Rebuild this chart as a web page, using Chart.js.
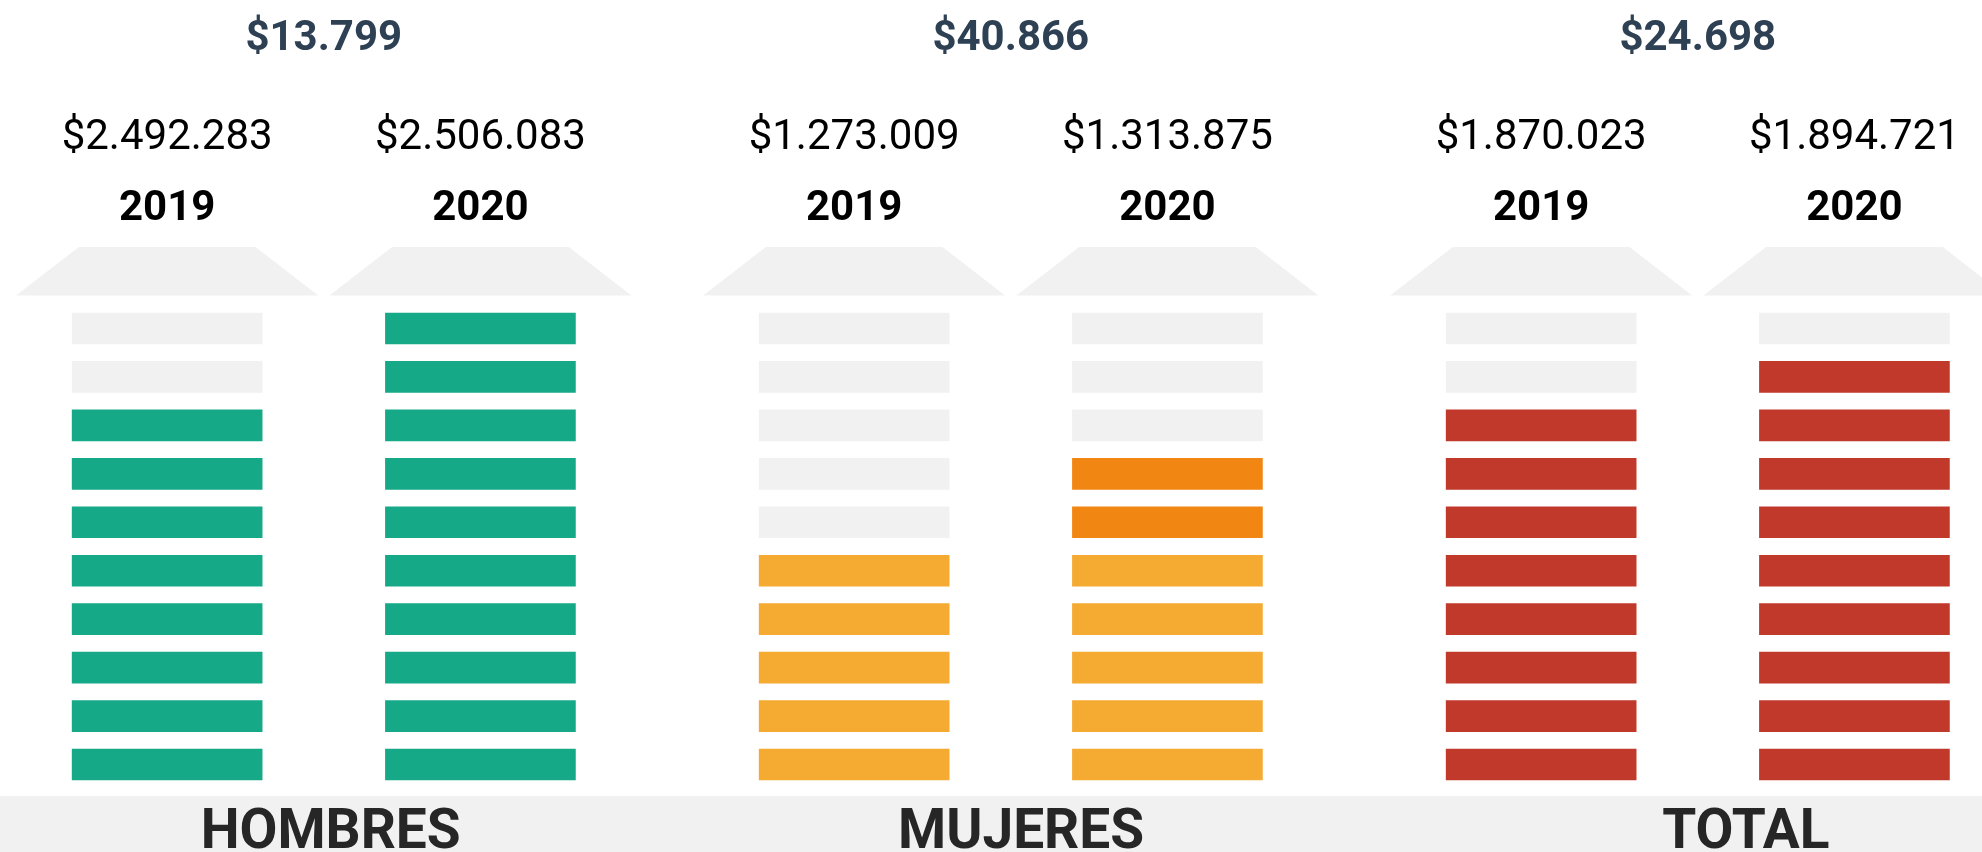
<!DOCTYPE html>
<html lang="es">
<head>
<meta charset="utf-8">
<title>Ingreso promedio 2019 - 2020</title>
<script src="https://cdn.jsdelivr.net/npm/chart.js@4.4.0/dist/chart.umd.min.js"></script>
<style>
  html, body { margin:0; padding:0; background:#fff; }
  #wrap { width:1982px; height:852px; }
</style>
</head>
<body>
<div id="wrap"><canvas id="chart" width="1982" height="852"></canvas></div>
<script>
/* ───────── datos ───────── */
const grupos         = ['HOMBRES', 'MUJERES', 'TOTAL'];
const anios          = ['2019', '2020'];
const monto2019      = [2492283, 1273009, 1870023];
const monto2020      = [2506083, 1313875, 1894721];
const diferencia     = [13799, 40866, 24698];
const bloques2019    = [8, 5, 8];     // bloques llenos (de 10)
const bloques2020    = [10, 7, 9];
const destacados2020 = [0, 2, 0];     // bloques superiores resaltados en 2020
const TOTAL_BLOQUES  = 10;

/* ───────── colores ───────── */
const colorGrupo     = ['#16a987', '#f5aa31', '#c0392b'];
const colorDestacado = ['#16a987', '#f28613', '#c0392b'];
const VACIO          = '#f1f1f1';

/* ───────── geometría (unidades de escala) ───────── */
const SEP   = 0.228;   // media distancia entre columnas de un grupo
const ALTO  = 0.64;    // alto de cada bloque
const ANCHO = 190;     // grosor de barra en px

const fmt = n => '$' + String(n).replace(/\B(?=(\d{3})+(?!\d))/g, '.');

/* ---------- una columna por grupo y año ---------- */
const columnas = [];
grupos.forEach((g, gi) => anios.forEach((a, ai) => columnas.push({
  x: gi + (ai ? SEP : -SEP),
  grupo: gi,
  anio: a,
  llenos: ai ? bloques2020[gi] : bloques2019[gi],
  destacados: ai ? destacados2020[gi] : 0,
  monto: ai ? monto2020[gi] : monto2019[gi]
})));

/* ---------- un dataset por nivel de bloque ---------- */
const datasets = [];
for (let i = 0; i < TOTAL_BLOQUES; i++) {
  datasets.push({
    data: columnas.map(c => ({ x: c.x, y: [i, i + ALTO] })),
    backgroundColor: columnas.map(c => {
      if (i >= c.llenos) return VACIO;
      if (i >= c.llenos - c.destacados) return colorDestacado[c.grupo];
      return colorGrupo[c.grupo];
    }),
    grouped: false,
    barThickness: ANCHO,
    borderWidth: 0
  });
}

/* ---------- techos, montos, años y nombres de grupo ---------- */
const rotulos = {
  id: 'rotulos',
  beforeDatasetsDraw(chart) {
    const { ctx, scales: { y }, width, height } = chart;
    const top = y.getPixelForValue(-0.33);
    ctx.save();
    ctx.fillStyle = VACIO;
    ctx.fillRect(0, top, width, height - top);
    ctx.restore();
  },
  afterDatasetsDraw(chart) {
    const { ctx, scales: { x, y } } = chart;
    ctx.save();
    ctx.textAlign = 'center';
    ctx.textBaseline = 'alphabetic';

    // techo trapezoidal sobre cada columna
    const yBase = y.getPixelForValue(TOTAL_BLOQUES);
    const yTope = y.getPixelForValue(TOTAL_BLOQUES + 1);
    columnas.forEach(c => {
      const cx = x.getPixelForValue(c.x);
      ctx.fillStyle = VACIO;
      ctx.beginPath();
      ctx.moveTo(cx - ANCHO * 0.795, yBase);
      ctx.lineTo(cx - ANCHO * 0.465, yTope);
      ctx.lineTo(cx + ANCHO * 0.465, yTope);
      ctx.lineTo(cx + ANCHO * 0.795, yBase);
      ctx.closePath();
      ctx.fill();

      ctx.fillStyle = '#000';
      ctx.font = 'bold 42px Roboto';
      ctx.fillText(c.anio, cx, y.getPixelForValue(11.56));
      ctx.font = '400 42px Roboto';
      ctx.fillText(fmt(c.monto), cx, y.getPixelForValue(13.03));
    });

    // diferencia entre años, arriba de cada grupo
    ctx.fillStyle = '#2e4053';
    ctx.font = 'bold 42px Roboto';
    diferencia.forEach((d, gi) => {
      ctx.fillText(fmt(d), x.getPixelForValue(gi), y.getPixelForValue(15.07));
    });

    // nombre del grupo sobre la franja gris
    const desfase = [0.01, 0.015, 0.07];
    ctx.fillStyle = '#262626';
    ctx.font = 'bold 55px Roboto';
    grupos.forEach((g, gi) => {
      ctx.fillText(g, x.getPixelForValue(gi + desfase[gi]), y.getPixelForValue(-1.40));
    });
    ctx.restore();
  }
};

new Chart(document.getElementById('chart'), {
  type: 'bar',
  data: { datasets },
  options: {
    responsive: false,
    animation: false,
    layout: { padding: 0 },
    plugins: { legend: { display: false }, tooltip: { enabled: false } },
    scales: {
      x: { type: 'linear', min: -0.4713, max: 2.4137, display: false, offset: false },
      y: { type: 'linear', min: -1.486, max: 16.10, display: false }
    }
  },
  plugins: [rotulos]
});
</script>
</body>
</html>
